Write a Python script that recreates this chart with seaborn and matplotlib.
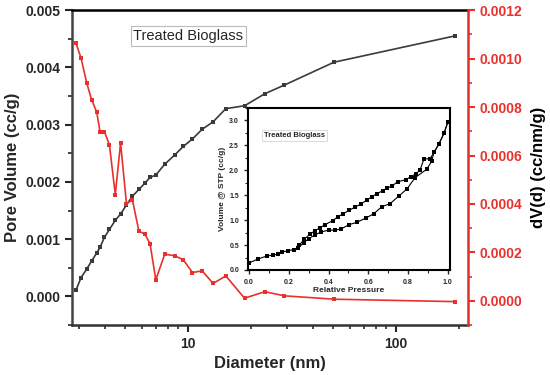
import seaborn as sns
import matplotlib.pyplot as plt
from matplotlib.ticker import MultipleLocator, LogLocator, NullFormatter, FixedLocator

# pore size distribution (main plot)
diameter = [2.89, 3.06, 3.26, 3.44, 3.64, 3.78, 3.96, 4.19, 4.47, 4.74, 5.06, 5.40, 5.81, 6.21,
            6.57, 7.00, 7.73, 8.63, 9.49, 10.5, 11.7, 13.2, 15.2, 18.7, 23.4, 29.0, 50.3, 192]
pore_volume = [0.000105, 0.00033, 0.00048, 0.00062, 0.00076, 0.00086, 0.00103, 0.00117, 0.00133,
               0.00144, 0.0016, 0.00175, 0.00187, 0.00198, 0.00208, 0.00212, 0.00231, 0.00247,
               0.00262, 0.00275, 0.00292, 0.00305, 0.00328, 0.00333, 0.00354, 0.00369, 0.00409, 0.00455]
dv_d = [0.001065, 0.001002, 0.000899, 0.000830, 0.000779, 0.000695, 0.000699, 0.000644, 0.000439,
        0.000651, 0.000401, 0.000418, 0.000287, 0.000276, 0.000235, 0.000087, 0.000193, 0.000186,
        0.000170, 0.000117, 0.000124, 0.000072, 0.000103, 0.000011, 0.000038, 0.000021, 0.000007, -0.000003]

# isotherm (inset)
ads_p = [0.0, 0.044, 0.089, 0.122, 0.147, 0.167, 0.198, 0.228, 0.248, 0.276, 0.30, 0.33, 0.36, 0.40,
         0.43, 0.46, 0.504, 0.544, 0.586, 0.628, 0.667, 0.709, 0.755, 0.795, 0.834, 0.893, 0.918,
         0.93, 0.955, 0.98, 1.0]
ads_v = [0.14, 0.22, 0.28, 0.30, 0.32, 0.36, 0.39, 0.41, 0.45, 0.55, 0.63, 0.70, 0.76, 0.80,
         0.80, 0.82, 0.91, 0.96, 1.04, 1.13, 1.27, 1.33, 1.49, 1.63, 1.85, 2.02, 2.18,
         2.36, 2.53, 2.74, 2.97]
des_p = [1.0, 0.98, 0.955, 0.93, 0.91, 0.88, 0.859, 0.839, 0.813, 0.787, 0.747, 0.717, 0.692, 0.672,
         0.642, 0.617, 0.591, 0.561, 0.533, 0.504, 0.474, 0.449, 0.42, 0.382, 0.357, 0.332, 0.307,
         0.278, 0.253]
des_v = [2.97, 2.74, 2.53, 2.36, 2.23, 2.23, 2.0, 1.93, 1.87, 1.81, 1.77, 1.68, 1.64, 1.59,
         1.53, 1.47, 1.40, 1.32, 1.26, 1.20, 1.13, 1.07, 0.99, 0.91, 0.85, 0.79, 0.72,
         0.62, 0.50]

sns.set_style("ticks")
plt.rcParams['font.family'] = ['Liberation Sans', 'DejaVu Sans']
plt.rcParams['font.weight'] = 'bold'

red = '#e8302c'
dark = '#3a3a3a'

fig = plt.figure(figsize=(5.5, 3.75), dpi=100)
ax = fig.add_axes([0.131, 0.133, 0.72, 0.84])
ax2 = ax.twinx()

sns.lineplot(x=diameter, y=pore_volume, ax=ax, color=dark, marker='s', markersize=3.2,
             markeredgewidth=0, linewidth=1.2, sort=False, estimator=None)
sns.lineplot(x=diameter, y=dv_d, ax=ax2, color=red, marker='s', markersize=3.2,
             markeredgewidth=0, linewidth=1.2, sort=False, estimator=None)

ax.set_xscale('log')
ax.set_xlim(2.77, 222)
ax.set_ylim(-0.0005, 0.005)
ax2.set_ylim(-0.0001, 0.0012)

ax.yaxis.set_major_locator(MultipleLocator(0.001))
ax.yaxis.set_minor_locator(MultipleLocator(0.0005))
ax.yaxis.set_major_formatter(plt.FormatStrFormatter('%.3f'))
ax2.yaxis.set_major_locator(MultipleLocator(0.0002))
ax2.yaxis.set_minor_locator(MultipleLocator(0.0001))
ax2.yaxis.set_major_formatter(plt.FormatStrFormatter('%.4f'))
ax.xaxis.set_major_locator(FixedLocator([10, 100]))
ax.xaxis.set_major_formatter(plt.FormatStrFormatter('%d'))
ax.xaxis.set_minor_locator(LogLocator(base=10, subs=range(2, 10), numticks=20))
ax.xaxis.set_minor_formatter(NullFormatter())

for s in ['left', 'bottom', 'top']:
    ax.spines[s].set_linewidth(1.8)
ax.spines['left'].set_color('#444444')
ax.spines['bottom'].set_color('#333333')
ax.spines['top'].set_color('black')
ax2.spines['right'].set_color(red)
ax2.spines['right'].set_linewidth(1.8)
for s in ['left', 'bottom', 'top']:
    ax2.spines[s].set_visible(False)

ax.tick_params(axis='both', which='major', length=5, width=1.5, labelsize=10, direction='out')
ax.tick_params(axis='both', which='minor', length=3, width=1.2, direction='out')
ax2.tick_params(axis='y', which='major', length=5, width=1.5, colors=red, labelsize=10)
ax2.tick_params(axis='y', which='minor', length=3, width=1.2, colors=red)

ax.set_xlabel('Diameter (nm)', fontsize=12, fontweight='bold')
ax.set_ylabel('Pore Volume (cc/g)', fontsize=12, fontweight='bold')
ax2.set_ylabel('dV(d) (cc/nm/g)', fontsize=12, fontweight='bold', color='black', labelpad=6)

ax.text(0.155, 0.905, 'Treated Bioglass', transform=ax.transAxes, fontsize=10.5, fontweight='normal',
        bbox=dict(facecolor='white', edgecolor='#bbbbbb', linewidth=0.8, pad=2))

# inset isotherm
ins = fig.add_axes([0.451, 0.28, 0.367, 0.432])
sns.lineplot(x=ads_p, y=ads_v, ax=ins, color='black', marker='s', markersize=2.5,
             markeredgewidth=0, linewidth=0.8, sort=False, estimator=None)
sns.lineplot(x=des_p, y=des_v, ax=ins, color='black', marker='s', markersize=2.5,
             markeredgewidth=0, linewidth=0.8, sort=False, estimator=None)
ins.set_xlim(-0.005, 1.01)
ins.set_ylim(0, 3.25)
ins.xaxis.set_major_locator(MultipleLocator(0.2))
ins.xaxis.set_minor_locator(MultipleLocator(0.1))
ins.yaxis.set_major_locator(MultipleLocator(0.5))
ins.yaxis.set_minor_locator(MultipleLocator(0.25))
ins.xaxis.set_major_formatter(plt.FormatStrFormatter('%.1f'))
ins.yaxis.set_major_formatter(plt.FormatStrFormatter('%.1f'))
for s in ins.spines.values():
    s.set_linewidth(1.5)
    s.set_color('black')
ins.tick_params(which='major', length=3, width=1, labelsize=5)
ins.tick_params(which='minor', length=2, width=0.8)
ins.set_xlabel('Relative Pressure', fontsize=6, fontweight='bold', labelpad=1)
ins.set_ylabel('Volume @ STP (cc/g)', fontsize=6, fontweight='bold', labelpad=2)
ins.text(0.08, 0.82, 'Treated Bioglass', transform=ins.transAxes, fontsize=5.5, fontweight='bold',
         bbox=dict(facecolor='white', edgecolor='#cccccc', linewidth=0.5, pad=1.5))

plt.savefig('out.png', dpi=100)
